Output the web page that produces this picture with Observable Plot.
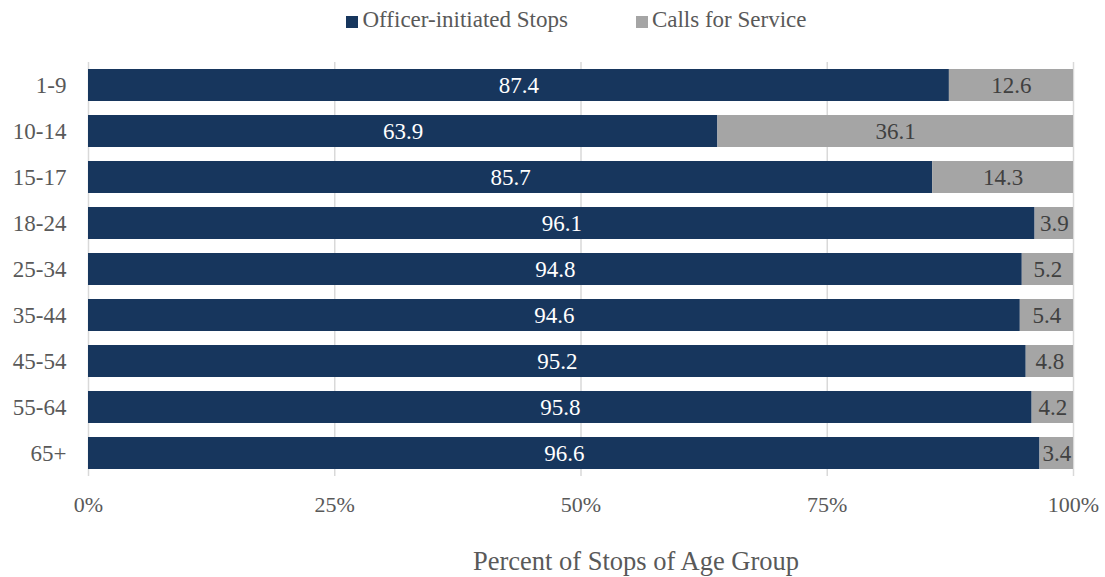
<!DOCTYPE html>
<html>
<head>
<meta charset="utf-8">
<script src="https://cdn.jsdelivr.net/npm/d3@7"></script>
<script src="https://cdn.jsdelivr.net/npm/@observablehq/plot@0.6"></script>
<style>
  html, body { margin: 0; padding: 0; background: #fff; }
  body { width: 1105px; height: 577px; overflow: hidden; font-family: "Liberation Serif", Tinos, "DejaVu Serif", serif; }
  #legend { height: 40px; display: flex; justify-content: center; align-items: center; gap: 68px; padding-left: 48px; box-sizing: border-box; font-size: 23px; color: #595959; }
  #legend .item { display: flex; align-items: center; }
  #legend .sw { width: 12px; height: 12px; margin-right: 4px; margin-top: 3px; }
  #chart svg { display: block; overflow: visible; }
</style>
</head>
<body>
<div id="legend"></div>
<div id="chart"></div>
<script>
const ageGroups = ["1-9", "10-14", "15-17", "18-24", "25-34", "35-44", "45-54", "55-64", "65+"];
const officerInitiated = [87.4, 63.9, 85.7, 96.1, 94.8, 94.6, 95.2, 95.8, 96.6];
const callsForService = [12.6, 36.1, 14.3, 3.9, 5.2, 5.4, 4.8, 4.2, 3.4];
const seriesNames = ["Officer-initiated Stops", "Calls for Service"];
const seriesColors = ["#17365d", "#a5a5a5"];
const xTicks = [0, 25, 50, 75, 100];
const xTitle = "Percent of Stops of Age Group";

const fontStack = "'Liberation Serif', Tinos, 'DejaVu Serif', serif";

const rows = ageGroups.flatMap((age, i) => [
  {age, series: seriesNames[0], value: officerInitiated[i], start: 0},
  {age, series: seriesNames[1], value: callsForService[i], start: officerInitiated[i]}
]);

const legend = document.getElementById("legend");
seriesNames.forEach((name, i) => {
  const item = document.createElement("div");
  item.className = "item";
  const sw = document.createElement("span");
  sw.className = "sw";
  sw.style.background = seriesColors[i];
  const label = document.createElement("span");
  label.textContent = name;
  item.appendChild(sw);
  item.appendChild(label);
  legend.appendChild(item);
});

const chart = Plot.plot({
  width: 1105,
  height: 537,
  marginTop: 22,
  marginBottom: 101,
  marginLeft: 88,
  marginRight: 32,
  style: {fontFamily: fontStack, background: "transparent"},
  x: {domain: [0, 100]},
  y: {domain: ageGroups, paddingInner: 0.3, paddingOuter: 0.15},
  color: {domain: seriesNames, range: seriesColors},
  marks: [
    Plot.gridX(xTicks, {stroke: "#d9d9d9", strokeOpacity: 1, strokeWidth: 1.5}),
    Plot.barX(rows, Plot.stackX({x: "value", y: "age", fill: "series", order: seriesNames})),
    Plot.text(rows.filter(d => d.series === seriesNames[0]), {
      x: d => d.start + d.value / 2, y: "age", text: d => d.value.toFixed(1),
      fill: "white", fontSize: 23
    }),
    Plot.text(rows.filter(d => d.series === seriesNames[1]), {
      x: d => d.start + d.value / 2, y: "age", text: d => d.value.toFixed(1),
      fill: "#404040", fontSize: 23
    }),
    Plot.axisY({tickSize: 0, tickPadding: 22, fontSize: 23, color: "#595959", label: null}),
    Plot.axisX({ticks: xTicks, tickFormat: d => d + "%", tickSize: 0, tickPadding: 20, fontSize: 22, color: "#595959",
      label: xTitle, labelArrow: "none", labelAnchor: "center", labelOffset: 93})
  ]
});
document.getElementById("chart").appendChild(chart);
chart.querySelectorAll("[aria-label='x-axis label'] text").forEach(el => {
  el.setAttribute("font-size", 26.5);
  el.setAttribute("dx", 55);
});
</script>
</body>
</html>
